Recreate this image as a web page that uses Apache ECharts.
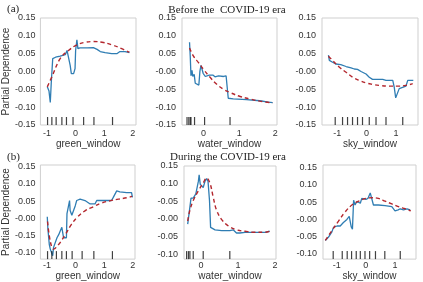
<!DOCTYPE html>
<html>
<head>
<meta charset="utf-8">
<script src="https://cdn.jsdelivr.net/npm/echarts@6/dist/echarts.min.js"></script>
<style>
  html, body { margin: 0; padding: 0; background: #fff; }
  #chart { width: 423px; height: 282px; }
</style>
</head>
<body>
<div id="chart"></div>
<script>
// partial dependence curves ([feature value, pd])
const greenBeforePd = [[-0.99,-0.043],[-0.93,-0.055],[-0.885,-0.087],[-0.85,-0.03],[-0.80,0.036],[-0.70,0.040],[-0.54,0.043],[-0.36,0.047],[-0.30,0.059],[-0.25,0.055],[-0.19,0.017],[-0.15,-0.006],[-0.07,-0.006],[-0.02,0.008],[0.0,0.059],[0.045,0.089],[0.08,0.064],[0.15,0.066],[0.4,0.066],[0.62,0.067],[0.68,0.064],[0.75,0.062],[0.86,0.056],[1.03,0.053],[1.26,0.050],[1.44,0.050],[1.55,0.056],[1.73,0.056],[1.88,0.053]]
const greenBeforeFit = [[-0.99,-0.043],[-0.83,-0.015],[-0.54,0.036],[-0.25,0.059],[0.05,0.075],[0.33,0.082],[0.62,0.084],[0.92,0.082],[1.26,0.075],[1.61,0.064],[1.88,0.054]]
const greenBeforeRug = [-0.98,-0.83,-0.68,-0.48,-0.32,-0.09,0.28,0.64,1.29]

const waterBeforePd = [[-0.39,0.082],[-0.37,0.043],[-0.35,-0.012],[-0.32,0.003],[-0.30,-0.014],[-0.26,-0.008],[-0.23,-0.033],[-0.19,-0.038],[-0.13,-0.038],[-0.10,0.001],[-0.07,0.017],[-0.04,0.015],[-0.01,-0.005],[0.05,-0.014],[0.09,-0.019],[0.16,-0.010],[0.20,-0.005],[0.26,-0.010],[0.32,-0.015],[0.42,-0.012],[0.56,-0.014],[0.63,-0.012],[0.67,-0.054],[0.69,-0.075],[0.83,-0.077],[1.20,-0.079],[1.57,-0.082],[1.81,-0.086],[1.93,-0.087]]
const waterBeforeFit = [[-0.39,0.066],[-0.28,0.043],[-0.14,0.025],[0,0.006],[0.19,-0.017],[0.37,-0.036],[0.56,-0.050],[0.74,-0.059],[1.02,-0.070],[1.30,-0.077],[1.57,-0.083],[1.93,-0.088]]
const waterBeforeRug = [-0.46,-0.41,-0.37,-0.35,-0.25,0.03,0.74]

const skyBeforePd = [[-1.30,0.046],[-1.27,0.031],[-1.16,0.026],[-1.05,0.021],[-0.88,0.019],[-0.70,0.014],[-0.53,0.010],[-0.42,0.007],[-0.31,0.006],[-0.19,0.0],[-0.02,-0.007],[0.09,-0.016],[0.20,-0.022],[0.55,-0.022],[0.66,-0.025],[0.89,-0.025],[0.94,-0.044],[0.99,-0.074],[1.05,-0.071],[1.11,-0.048],[1.17,-0.044],[1.34,-0.041],[1.40,-0.025],[1.59,-0.025]]
const skyBeforeFit = [[-1.30,0.043],[-1.16,0.031],[-0.93,0.012],[-0.70,-0.002],[-0.48,-0.016],[-0.25,-0.025],[-0.02,-0.032],[0.20,-0.036],[0.43,-0.039],[0.77,-0.041],[1.11,-0.041],[1.34,-0.039],[1.57,-0.034]]
const skyBeforeRug = [-1.07,-0.82,-0.65,-0.48,-0.31,-0.14,0.09,0.32,0.66,1.23]

const greenDuringPd = [[-0.99,0.005],[-0.97,-0.028],[-0.92,-0.075],[-0.885,-0.089],[-0.83,-0.092],[-0.80,-0.108],[-0.77,-0.084],[-0.71,-0.080],[-0.65,-0.056],[-0.59,-0.047],[-0.54,-0.037],[-0.48,-0.026],[-0.44,-0.021],[-0.42,-0.056],[-0.36,-0.061],[-0.32,-0.056],[-0.30,0.014],[-0.25,0.019],[-0.21,0.052],[-0.19,0.023],[-0.13,0.009],[-0.07,0.009],[-0.01,0.037],[0.04,0.052],[0.16,0.056],[0.33,0.052],[0.51,0.042],[0.68,0.042],[0.74,0.052],[0.97,0.052],[1.26,0.052],[1.32,0.061],[1.44,0.080],[1.55,0.077],[1.79,0.075],[1.96,0.075],[1.99,0.061]]
const greenDuringFit = [[-0.98,-0.009],[-0.92,-0.05],[-0.83,-0.084],[-0.77,-0.089],[-0.60,-0.076],[-0.54,-0.070],[-0.36,-0.047],[-0.15,-0.018],[0.04,0.002],[0.33,0.022],[0.6,0.033],[0.92,0.045],[1.2,0.051],[1.5,0.056],[1.8,0.060],[1.98,0.064]]
const greenDuringRug = [-0.98,-0.83,-0.67,-0.48,-0.32,-0.12,0.23,0.64,1.29]

const waterDuringPd = [[-0.36,-0.015],[-0.30,0.034],[-0.27,0.059],[-0.21,0.059],[-0.14,0.071],[-0.09,0.071],[-0.07,0.107],[-0.05,0.125],[-0.02,0.098],[0.02,0.102],[0.06,0.089],[0.11,0.107],[0.15,0.114],[0.19,0.107],[0.23,0.052],[0.26,-0.024],[0.29,-0.029],[0.38,-0.031],[0.56,-0.033],[0.78,-0.033],[0.87,-0.031],[0.92,-0.031],[0.96,-0.040],[1.05,-0.040],[1.19,-0.038],[1.46,-0.038],[1.73,-0.038],[1.86,-0.035]]
const waterDuringFit = [[-0.36,-0.006],[-0.30,0.025],[-0.21,0.052],[-0.07,0.080],[0.06,0.102],[0.15,0.116],[0.24,0.102],[0.33,0.062],[0.42,0.025],[0.56,-0.002],[0.74,-0.020],[0.96,-0.031],[1.19,-0.035],[1.46,-0.038],[1.73,-0.038],[1.86,-0.035]]
const waterDuringRug = [-0.39,-0.34,-0.30,-0.21,0.06,0.78]

const skyDuringPd = [[-1.39,-0.061],[-1.28,-0.051],[-1.17,-0.037],[-1.11,-0.023],[-0.99,-0.019],[-0.88,-0.019],[-0.77,-0.009],[-0.65,0.0],[-0.57,0.009],[-0.50,-0.022],[-0.46,-0.028],[-0.42,0.056],[-0.37,0.042],[-0.31,0.052],[-0.25,0.056],[-0.19,0.047],[-0.14,0.061],[-0.08,0.063],[0.0,0.058],[0.07,0.061],[0.15,0.077],[0.21,0.075],[0.26,0.042],[0.43,0.042],[0.66,0.040],[0.89,0.037],[0.95,0.033],[1.0,0.025],[1.11,0.028],[1.18,0.031],[1.29,0.028],[1.41,0.031],[1.52,0.028]]
const skyDuringFit = [[-1.39,-0.061],[-1.17,-0.033],[-0.94,-0.005],[-0.71,0.022],[-0.48,0.042],[-0.25,0.053],[0.0,0.061],[0.21,0.063],[0.43,0.061],[0.66,0.053],[0.89,0.045],[1.12,0.037],[1.35,0.031],[1.54,0.025]]
const skyDuringRug = [-1.12,-0.81,-0.64,-0.49,-0.33,-0.19,-0.03,0.13,0.33,0.65,1.18]

// tick labels (the paper's labels, typos included)
const yTicksTop = [0.15, 0.10, 0.05, 0, -0.05, -0.10, -0.15]
const yLabelsGreenBefore = ['0.15','0.10','0.05','0.00','-0.05','-0.10','-0.15']
const yLabelsBefore = ['0.15','0.10','0.05','-0.00','-0.05','-0.10','-0.15']
const yTicksBottom = [0.15, 0.10, 0.05, 0, -0.05, -0.10]
const yLabelsGreenDuring = ['0.15','0.10','0.05','-0.00','-0.15','-0.10']
const yLabelsWaterDuring = ['0.15','0.10','-0.05','-0.00','-0.05','-0.10']
const yLabelsSkyDuring = ['0.15','0.10','0.05','-0.00','-0.05','-0.10']
const xTicksGreen = [-1, 0, 1, 2]
const xTicksWater = [0, 1, 2]
const xTicksSky = [-1, 0, 1]

const BLUE = '#2f7db3'
const RED = '#b3262d'
const SANS = 'Liberation Sans'
const SERIF = 'Liberation Serif'

const panels = [
    { grid: { left: 40, top: 18, width: 96, height: 107 }, x: [-1.23, 2.11], y: [-0.15, 0.15], xt: xTicksGreen, yt: yTicksTop, yl: yLabelsGreenBefore, name: 'green_window', pd: greenBeforePd, fit: greenBeforeFit, rug: greenBeforeRug, ylabel: true, nameGap: 12, lm: 4 },
    { grid: { left: 182, top: 18, width: 95, height: 107 }, x: [-0.6, 2.05], y: [-0.15, 0.15], xt: xTicksWater, yt: yTicksTop, yl: yLabelsBefore, name: 'water_window', pd: waterBeforePd, fit: waterBeforeFit, rug: waterBeforeRug, nameGap: 12, lm: 4 },
    { grid: { left: 322, top: 18, width: 96, height: 107 }, x: [-1.52, 1.75], y: [-0.15, 0.15], xt: xTicksSky, yt: yTicksTop, yl: yLabelsBefore, name: 'sky_window', pd: skyBeforePd, fit: skyBeforeFit, rug: skyBeforeRug, nameGap: 12, lm: 4 },
    { grid: { left: 40, top: 165, width: 95, height: 97 }, x: [-1.23, 2.08], y: [-0.118, 0.155], xt: xTicksGreen, yt: yTicksBottom, yl: yLabelsGreenDuring, name: 'green_window', pd: greenDuringPd, fit: greenDuringFit, rug: greenDuringRug, ylabel: true, nameGap: 11, lm: 2 },
    { grid: { left: 184, top: 166, width: 92, height: 97 }, x: [-0.46, 2.03], y: [-0.114, 0.15], xt: xTicksWater, yt: yTicksBottom, yl: yLabelsWaterDuring, name: 'water_window', pd: waterDuringPd, fit: waterDuringFit, rug: waterDuringRug, nameGap: 10, lm: 2 },
    { grid: { left: 323, top: 165, width: 93, height: 97 }, x: [-1.47, 1.72], y: [-0.115, 0.158], xt: xTicksSky, yt: yTicksBottom, yl: yLabelsSkyDuring, name: 'sky_window', pd: skyDuringPd, fit: skyDuringFit, rug: skyDuringRug, nameGap: 11, lm: 2 }
]

const grid = [], xAxis = [], yAxis = [], series = []

panels.forEach((p, i) => {
    grid.push(Object.assign({ show: true, borderColor: '#cfcfcf', borderWidth: 1, backgroundColor: '#fff' }, p.grid))

    xAxis.push({
        type: 'value', gridIndex: i, min: p.x[0], max: p.x[1],
        name: p.name, nameLocation: 'middle', nameGap: p.nameGap,
        nameTextStyle: { fontFamily: SANS, fontSize: 10, color: '#333' },
        axisLine: { show: false }, axisTick: { show: false }, splitLine: { show: false },
        axisLabel: {
            customValues: p.xt, margin: p.lm, fontFamily: SANS, fontSize: 9, color: '#333',
            formatter: v => String(Math.round(v))
        }
    })

    const labelMap = {}
    p.yt.forEach((v, k) => { labelMap[v.toFixed(2)] = p.yl[k] })
    yAxis.push({
        type: 'value', gridIndex: i, min: p.y[0], max: p.y[1],
        name: p.ylabel ? 'Partial Dependence' : '', nameLocation: 'middle', nameGap: 29,
        nameTextStyle: { fontFamily: SANS, fontSize: 10, color: '#333' },
        axisLine: { show: false }, axisTick: { show: false }, splitLine: { show: false },
        axisLabel: {
            customValues: p.yt, margin: i % 3 === 0 ? 5 : 6, fontFamily: SANS, fontSize: 9, color: '#333',
            formatter: v => labelMap[(Math.abs(v) < 1e-9 ? 0 : v).toFixed(2)] || ''
        }
    })

    series.push({
        type: 'line', xAxisIndex: i, yAxisIndex: i, data: p.pd,
        showSymbol: false, lineStyle: { color: BLUE, width: 1.3 }, z: 3
    })
    series.push({
        type: 'line', xAxisIndex: i, yAxisIndex: i, data: p.fit, smooth: 0.4,
        showSymbol: false, lineStyle: { color: RED, width: 1.4, type: [4, 3] }, z: 4
    })
    series.push({
        type: 'scatter', xAxisIndex: i, yAxisIndex: i, clip: false,
        data: p.rug.map(v => [v, p.y[0]]),
        symbol: 'rect', symbolSize: [1.2, 8], symbolOffset: [0, -4],
        itemStyle: { color: '#111' }, z: 5
    })
})

const chart = echarts.init(document.getElementById('chart'), null, { renderer: 'canvas' })
chart.setOption({
    animation: false,
    backgroundColor: '#fff',
    title: [
        { text: '(a)', left: 2, top: -1, textStyle: { fontFamily: SERIF, fontSize: 11, fontWeight: 'normal', color: '#222' } },
        { text: 'Before the  COVID-19 era', left: 222, top: 0, textAlign: 'center', textStyle: { fontFamily: SERIF, fontSize: 11, fontWeight: 'normal', color: '#222' } },
        { text: '(b)', left: 2, top: 147, textStyle: { fontFamily: SERIF, fontSize: 11, fontWeight: 'normal', color: '#222' } },
        { text: 'During the COVID-19 era', left: 223, top: 147, textAlign: 'center', textStyle: { fontFamily: SERIF, fontSize: 11, fontWeight: 'normal', color: '#222' } }
    ],
    grid: grid,
    xAxis: xAxis,
    yAxis: yAxis,
    series: series
})
</script>
</body>
</html>
